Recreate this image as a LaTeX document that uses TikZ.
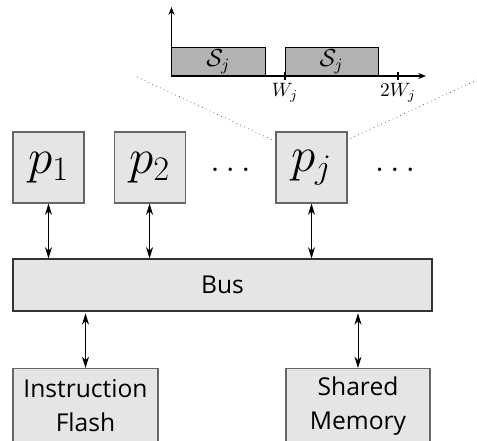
\RequirePackage{fix-cm}
\documentclass[tikz,border=0pt]{standalone}
\usepackage{amsmath}
\usepackage{fontspec}
\setsansfont{Open Sans}
\usepackage{tikz}
\usetikzlibrary{positioning,arrows.meta}

\tikzset{
  proc/.style={draw=black!60, fill=gray!20, line width=0.6pt, minimum size=1.42cm, inner sep=0pt,
    font=\fontsize{28}{30}\selectfont},
  unit/.style={draw=black!60, fill=gray!20, line width=0.6pt, inner sep=0pt, align=center,
    font=\sffamily\fontsize{14}{19.3}\selectfont},
  link/.style={{Stealth[length=6.5pt,width=4pt]}-{Stealth[length=6.5pt,width=4pt]}, line width=0.5pt},
  axis/.style={-{Stealth[length=4.5pt,width=3.5pt]}, line width=0.6pt},
  slot/.style={draw=black, fill=gray!60, line width=0.5pt},
  gap/.style={anchor=base, font=\fontsize{20}{22}\selectfont},
}

\begin{document}
\begin{tikzpicture}
  \useasboundingbox (0,0) rectangle (9.54,8.8);

  % Processors: same size, laid out in one row
  \node[proc] (p1) at (0.97,5.45) {$p_1$};
  \node[proc, right=0.58cm of p1] (p2) {$p_2$};
  \node[gap] (dots1) at (4.61,5.37) {$\ldots$};
  \node[proc] (pj) at (6.23,5.45) {$p_j$};
  \node[gap] (dots2) at (7.9,5.37) {$\ldots$};

  % Bus and memories
  \node[unit, draw=black!80, minimum width=8.38cm, minimum height=1.04cm] (bus) at (4.45,3.1) {Bus};
  \node[unit, minimum width=2.9cm, minimum height=1.5cm] (flash) at (1.71,0.68) {Instruction\\Flash};
  \node[unit, minimum width=2.88cm, minimum height=1.5cm] (mem) at (7.16,0.68) {Shared\\Memory};

  % Links to the bus
  \draw[link] (p1.south) -- (p1.south |- bus.north);
  \draw[link] (p2.south) -- (p2.south |- bus.north);
  \draw[link] (pj.south) -- (pj.south |- bus.north);
  \draw[link] ([yshift=-1pt]bus.south -| flash.north) -- (flash.north);
  \draw[link] ([yshift=-1pt]bus.south -| mem.north) -- (mem.north);

  % Schedule of p_j: two slots within the windows
  \coordinate (o) at (3.43,7.28);
  \draw[slot] (3.43,7.28) rectangle (5.3,7.86) node[midway, font=\fontsize{14}{16}\selectfont] {$\mathcal{S}_j$};
  \draw[slot] (5.7,7.28) rectangle (7.56,7.86) node[midway, font=\fontsize{14}{16}\selectfont] {$\mathcal{S}_j$};
  \draw[axis] (o) -- (3.43,8.66);
  \draw[axis] (o) -- (8.52,7.28);
  \draw[line width=0.6pt] (5.7,7.2) -- (5.7,7.36) node[pos=0, below, inner sep=1.5pt, font=\fontsize{11}{12}\selectfont] {$W_j$};
  \draw[line width=0.6pt] (7.96,7.2) -- (7.96,7.36) node[pos=0, below, inner sep=1.5pt, font=\fontsize{11}{12}\selectfont] {$2W_j$};

  % Zoom lines from p_j up to its schedule
  \coordinate (zl) at (2.74,7.26);
  \coordinate (zr) at (9.54,7.2);
  \draw[dotted, black!70] (zl) -- ([shift={(-0.06,-0.17)}]pj.north west);
  \draw[dotted, black!70] ([shift={(0.06,-0.14)}]pj.north east) -- (zr);
\end{tikzpicture}
\end{document}
